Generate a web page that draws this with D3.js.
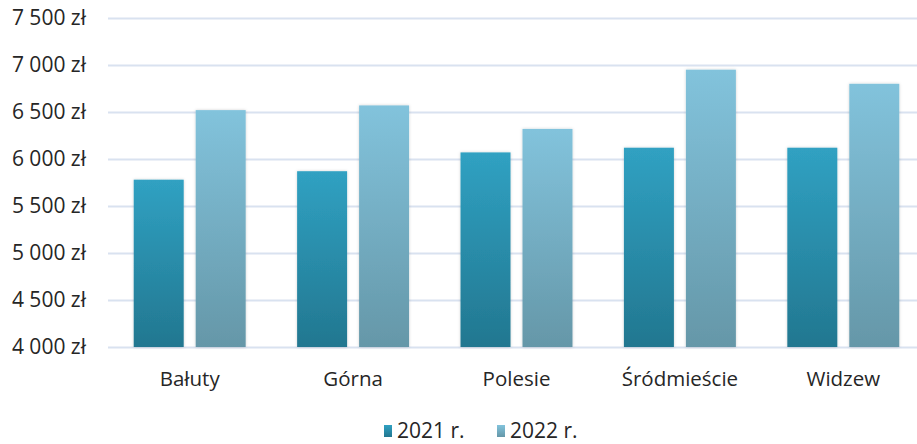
<!DOCTYPE html>
<html>
<head>
<meta charset="utf-8">
<script src="https://cdn.jsdelivr.net/npm/d3@7"></script>
<style>
  body { margin: 0; background: #fff; }
  svg text { font-family: "Open Sans", "Noto Sans", sans-serif; fill: #262626; }
</style>
</head>
<body>
<div id="chart"></div>
<script>
var districts = ["Bałuty", "Górna", "Polesie", "Śródmieście", "Widzew"];
var series = ["2021 r.", "2022 r."];
var values2021 = [5780, 5870, 6070, 6120, 6120];
var values2022 = [6520, 6570, 6320, 6950, 6800];
var yTicks = [4000, 4500, 5000, 5500, 6000, 6500, 7000, 7500];

var svgWidth = 917, svgHeight = 444;
var margin = { top: 18, right: -8, bottom: 97, left: 108 };
var width = svgWidth - margin.left - margin.right;
var height = svgHeight - margin.top - margin.bottom;

var svg = d3.select("#chart").append("svg")
  .attr("width", svgWidth)
  .attr("height", svgHeight);

var defs = svg.append("defs");
function grad(id, top, bottom) {
  var g = defs.append("linearGradient").attr("id", id)
    .attr("x1", 0).attr("y1", 0).attr("x2", 0).attr("y2", 1);
  g.append("stop").attr("offset", "0%").attr("stop-color", top);
  g.append("stop").attr("offset", "100%").attr("stop-color", bottom);
}
grad("g2021", "#30a1c2", "#227790");
grad("g2022", "#82c3dc", "#6597a8");
var f = defs.append("filter").attr("id", "shadow")
  .attr("x", "-20%").attr("y", "-5%").attr("width", "140%").attr("height", "110%");
f.append("feDropShadow").attr("dx", 0).attr("dy", 0).attr("stdDeviation", 1.5)
  .attr("flood-color", "#000").attr("flood-opacity", 0.18);

var chartGroup = svg.append("g")
  .attr("transform", `translate(${margin.left}, ${margin.top})`);

var yScale = d3.scaleLinear().domain([4000, 7500]).range([height, 0]);
var xScale = d3.scaleBand().domain(districts).range([0, width]).paddingInner(0).paddingOuter(0);
var xSub = d3.scaleBand().domain(series).range([0, xScale.bandwidth()])
  .paddingInner(0.1935).paddingOuter(0.415);

var fmt = d => d3.format(",")(d).replace(",", " ") + " zł";

// gridlines
chartGroup.append("g")
  .call(d3.axisLeft(yScale).tickValues(yTicks).tickSize(-width).tickFormat(""))
  .call(g => g.select(".domain").remove())
  .call(g => g.selectAll("line").attr("stroke", "#d9e2f0").attr("stroke-width", 2));

// y labels
chartGroup.append("g")
  .call(d3.axisLeft(yScale).tickValues(yTicks).tickSize(0).tickPadding(22).tickFormat(fmt))
  .call(g => g.select(".domain").remove())
  .call(g => g.selectAll("text").attr("font-size", 21).attr("fill", "#262626"));

var rows = districts.map((d, i) => ({ name: d, v: [values2021[i], values2022[i]] }));

var groups = chartGroup.selectAll(".grp").data(rows).enter().append("g")
  .attr("transform", d => `translate(${xScale(d.name)},0)`);

groups.selectAll("rect").data(d => d.v.map((v, j) => ({ s: series[j], v: v, j: j })))
  .enter().append("rect")
  .attr("x", d => xSub(d.s))
  .attr("width", xSub.bandwidth())
  .attr("y", d => yScale(d.v))
  .attr("height", d => yScale(4000) - yScale(d.v))
  .attr("fill", d => d.j === 0 ? "url(#g2021)" : "url(#g2022)")
  .attr("filter", "url(#shadow)");

// x labels
chartGroup.append("g")
  .attr("transform", `translate(0, ${height})`)
  .call(d3.axisBottom(xScale).tickSize(0).tickPadding(24))
  .call(g => g.select(".domain").remove())
  .call(g => g.selectAll("text").attr("font-size", 20.5).attr("fill", "#262626"));

// legend
var legend = svg.append("g").attr("transform", "translate(384, 431)");
var lx = [0, 113];
series.forEach((s, i) => {
  var item = legend.append("g").attr("transform", `translate(${lx[i]},0)`);
  item.append("rect").attr("x", 0).attr("y", -6).attr("width", 8).attr("height", 12)
    .attr("fill", i === 0 ? "url(#g2021)" : "url(#g2022)");
  item.append("text").attr("x", 13).attr("y", 0).attr("dy", "0.35em")
    .attr("font-size", 21).text(s);
});
</script>
</body>
</html>
